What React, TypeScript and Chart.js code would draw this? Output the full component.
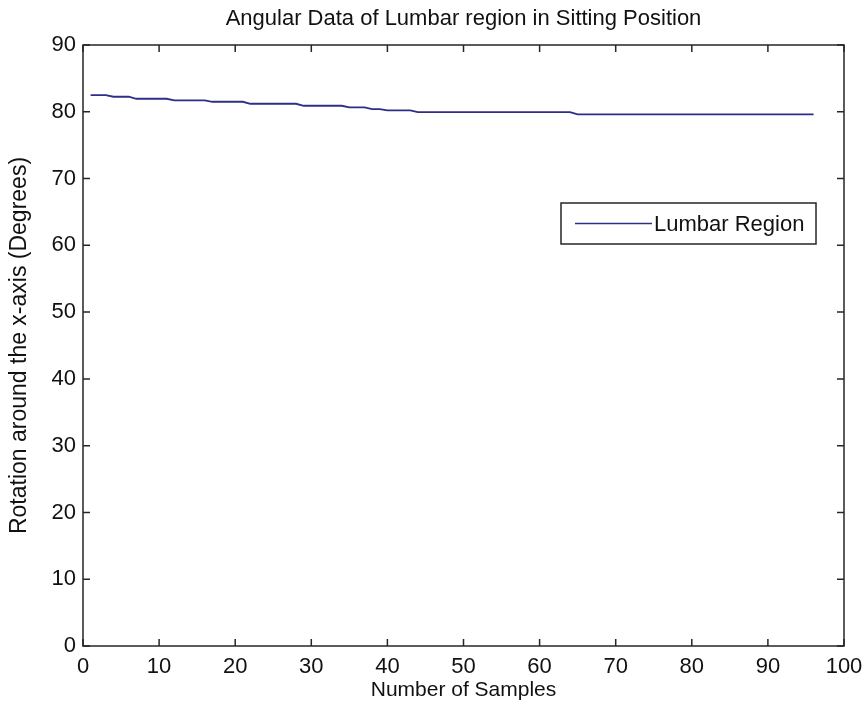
import { useEffect, useRef } from "react";
import { Chart, registerables } from "chart.js";

Chart.register(...registerables);

// Sample index (1..96) and the measured lumbar angle for each sample
const sampleNumbers = [
  1, 2, 3, 4, 5, 6, 7, 8, 9, 10, 11, 12, 13, 14, 15, 16,
  17, 18, 19, 20, 21, 22, 23, 24, 25, 26, 27, 28, 29, 30, 31, 32,
  33, 34, 35, 36, 37, 38, 39, 40, 41, 42, 43, 44, 45, 46, 47, 48,
  49, 50, 51, 52, 53, 54, 55, 56, 57, 58, 59, 60, 61, 62, 63, 64,
  65, 66, 67, 68, 69, 70, 71, 72, 73, 74, 75, 76, 77, 78, 79, 80,
  81, 82, 83, 84, 85, 86, 87, 88, 89, 90, 91, 92, 93, 94, 95, 96,
];

const lumbarAngles = [
  82.5, 82.5, 82.5, 82.25, 82.25, 82.25, 81.95, 81.95, 81.95, 81.95, 81.95, 81.72, 81.72, 81.72, 81.72, 81.72,
  81.5, 81.5, 81.5, 81.5, 81.5, 81.2, 81.2, 81.2, 81.2, 81.2, 81.2, 81.2, 80.9, 80.9, 80.9, 80.9,
  80.9, 80.9, 80.65, 80.65, 80.65, 80.4, 80.4, 80.2, 80.2, 80.2, 80.2, 79.95, 79.95, 79.95, 79.95, 79.95,
  79.95, 79.95, 79.95, 79.95, 79.95, 79.95, 79.95, 79.95, 79.95, 79.95, 79.95, 79.95, 79.95, 79.95, 79.95, 79.95,
  79.6, 79.6, 79.6, 79.6, 79.6, 79.6, 79.6, 79.6, 79.6, 79.6, 79.6, 79.6, 79.6, 79.6, 79.6, 79.6,
  79.6, 79.6, 79.6, 79.6, 79.6, 79.6, 79.6, 79.6, 79.6, 79.6, 79.6, 79.6, 79.6, 79.6, 79.6, 79.6,
];

const xTickValues = [0, 10, 20, 30, 40, 50, 60, 70, 80, 90, 100];
const yTickValues = [0, 10, 20, 30, 40, 50, 60, 70, 80, 90];

const chartTitle = "Angular Data of Lumbar region in Sitting Position";
const xAxisTitle = "Number of Samples";
const yAxisTitle = "Rotation around the x-axis (Degrees)";
const seriesLabel = "Lumbar Region";

const FONT = "'Liberation Sans', Arial, Helvetica, sans-serif";
const LINE_COLOR = "#2e2e86";
const AXIS_COLOR = "#262626";

// Boxed axes with inward-pointing ticks on all four sides, plus the title
const axesBoxPlugin = {
  id: "axesBox",
  afterDraw(chart: any) {
    const { ctx, chartArea, scales } = chart;
    const { left, right, top, bottom } = chartArea;
    const tick = 7;
    ctx.save();
    ctx.strokeStyle = AXIS_COLOR;
    ctx.lineWidth = 1.5;
    ctx.strokeRect(left, top, right - left, bottom - top);
    ctx.beginPath();
    for (const v of xTickValues) {
      const px = scales.x.getPixelForValue(v);
      ctx.moveTo(px, bottom);
      ctx.lineTo(px, bottom - tick);
      ctx.moveTo(px, top);
      ctx.lineTo(px, top + tick);
    }
    for (const v of yTickValues) {
      const py = scales.y.getPixelForValue(v);
      ctx.moveTo(left, py);
      ctx.lineTo(left + tick, py);
      ctx.moveTo(right, py);
      ctx.lineTo(right - tick, py);
    }
    ctx.stroke();

    ctx.fillStyle = "#111";
    ctx.font = `22px ${FONT}`;
    ctx.textAlign = "center";
    ctx.textBaseline = "middle";
    ctx.fillText(chartTitle, (left + right) / 2, 19);
    ctx.restore();
  },
};

// Legend box in the upper right of the axes
const boxedLegendPlugin = {
  id: "boxedLegend",
  afterDraw(chart: any) {
    const { ctx, chartArea } = chart;
    const ds = chart.data.datasets[0];
    const boxRight = chartArea.right - 28;
    const boxLeft = boxRight - 255;
    const boxTop = chartArea.top + 158;
    const boxH = 41;
    ctx.save();
    ctx.fillStyle = "#fff";
    ctx.fillRect(boxLeft, boxTop, boxRight - boxLeft, boxH);
    ctx.strokeStyle = AXIS_COLOR;
    ctx.lineWidth = 1.5;
    ctx.strokeRect(boxLeft, boxTop, boxRight - boxLeft, boxH);
    const midY = boxTop + boxH / 2;
    ctx.strokeStyle = ds.borderColor;
    ctx.lineWidth = 1.5;
    ctx.beginPath();
    ctx.moveTo(boxLeft + 14, midY);
    ctx.lineTo(boxLeft + 91, midY);
    ctx.stroke();
    ctx.fillStyle = "#111";
    ctx.font = `22px ${FONT}`;
    ctx.textAlign = "left";
    ctx.textBaseline = "middle";
    ctx.fillText(ds.label, boxLeft + 93, midY + 1);
    ctx.restore();
  },
};

export default function App() {
  const canvasRef = useRef<HTMLCanvasElement | null>(null);

  useEffect(() => {
    const canvas = canvasRef.current;
    if (!canvas) return;
    const points = sampleNumbers.map((s, i) => ({ x: s, y: lumbarAngles[i] }));
    const tickFont = { family: FONT, size: 22 };

    const chart = new Chart(canvas, {
      type: "line",
      data: {
        datasets: [
          {
            label: seriesLabel,
            data: points,
            borderColor: LINE_COLOR,
            backgroundColor: LINE_COLOR,
            borderWidth: 1.8,
            pointRadius: 0,
            tension: 0,
          },
        ],
      },
      options: {
        responsive: false,
        animation: false,
        events: [],
        layout: { padding: { top: 45, right: 22, left: 0, bottom: 0 } },
        plugins: {
          legend: { display: false },
          title: { display: false },
          tooltip: { enabled: false },
        },
        scales: {
          x: {
            type: "linear",
            min: 0,
            max: 100,
            afterFit: (scale: any) => {
              scale.height = 64;
              scale.paddingLeft = 0;
              scale.paddingRight = 0;
            },
            afterBuildTicks: (scale: any) => {
              scale.ticks = xTickValues.map((v) => ({ value: v }));
            },
            grid: { display: false, drawTicks: false },
            border: { display: false },
            ticks: {
              font: tickFont,
              color: "#111",
              padding: 8,
              maxRotation: 0,
              autoSkip: false,
            },
            title: {
              display: true,
              text: xAxisTitle,
              font: { family: FONT, size: 21 },
              color: "#111",
              padding: { top: 0, bottom: 7 },
            },
          },
          y: {
            type: "linear",
            min: 0,
            max: 90,
            afterFit: (scale: any) => {
              scale.width = 83;
              scale.paddingTop = 0;
              scale.paddingBottom = 0;
            },
            afterBuildTicks: (scale: any) => {
              scale.ticks = yTickValues.map((v) => ({ value: v }));
            },
            grid: { display: false, drawTicks: false },
            border: { display: false },
            ticks: {
              font: tickFont,
              color: "#111",
              padding: 7,
              autoSkip: false,
            },
            title: {
              display: true,
              text: yAxisTitle,
              font: { family: FONT, size: 23 },
              color: "#111",
              padding: { top: 6, bottom: 0 },
            },
          },
        },
      },
      plugins: [axesBoxPlugin, boxedLegendPlugin],
    });

    return () => chart.destroy();
  }, []);

  return (
    <div style={{ position: "absolute", left: 0, top: 0, width: 866, height: 710, background: "#fff" }}>
      <canvas ref={canvasRef} width={866} height={710} />
    </div>
  );
}
